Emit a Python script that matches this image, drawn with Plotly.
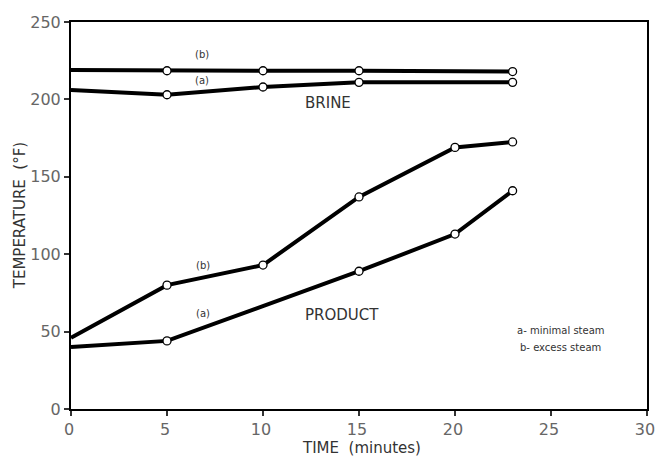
import plotly.graph_objects as go

time_brine = [0, 5, 10, 15, 23]
brine_b = [219, 218.5, 218.5, 218.5, 218]
brine_a = [206, 203, 208, 211, 211]

time_product = [0, 5, 10, 15, 20, 23]
product_b = [46, 80, 93, 137, 169, 172.5]
time_product_a = [0, 5, 15, 20, 23]
product_a = [40, 44, 89, 113, 141]

x_ticks = [0, 5, 10, 15, 20, 25, 30]
y_ticks = [0, 50, 100, 150, 200, 250]

line_style = dict(color="black", width=4)
marker_style = dict(symbol="circle", size=8, color="white",
                    line=dict(color="black", width=1.3))

fig = go.Figure()
for xs, ys in [(time_brine, brine_b), (time_brine, brine_a),
               (time_product, product_b), (time_product_a, product_a)]:
    fig.add_trace(go.Scatter(x=xs, y=ys, mode="lines",
                             line=line_style, showlegend=False))
    fig.add_trace(go.Scatter(x=xs[1:], y=ys[1:], mode="markers",
                             marker=marker_style, showlegend=False))

annotations = [
    dict(x=6.8, y=229, text="(b)", size=10),
    dict(x=6.8, y=212.5, text="(a)", size=10),
    dict(x=13.4, y=197.5, text="BRINE", size=15),
    dict(x=6.9, y=93, text="(b)", size=10),
    dict(x=6.9, y=62, text="(a)", size=10),
    dict(x=14.1, y=61, text="PRODUCT", size=15),
    dict(x=25.5, y=50.7, text="a- minimal steam", size=10),
    dict(x=25.5, y=39.5, text="b- excess steam", size=10),
]
for a in annotations:
    fig.add_annotation(x=a["x"], y=a["y"], text=a["text"], showarrow=False,
                       font=dict(family="DejaVu Sans", size=a["size"], color="#333333"))

# axis titles as paper-positioned text
fig.add_annotation(x=0.505, y=-0.1, xref="paper", yref="paper", yanchor="middle",
                   text="TIME  (minutes)", showarrow=False,
                   font=dict(family="DejaVu Sans", size=15, color="#333333"))
fig.add_annotation(x=-0.089, y=0.5, xref="paper", yref="paper", xanchor="center",
                   textangle=-90, text="TEMPERATURE  (°F)", showarrow=False,
                   font=dict(family="DejaVu Sans", size=15, color="#333333"))

axis_common = dict(showgrid=False, zeroline=False, showline=True, linecolor="black",
                   linewidth=2, mirror=True, ticks="outside", ticklen=5,
                   tickcolor="#333333", tickwidth=1.5, automargin=False,
                   tickfont=dict(family="DejaVu Sans", size=16, color="#666666"))

fig.update_layout(
    width=655, height=460,
    margin=dict(l=71, r=8, t=22, b=51, autoexpand=False),
    paper_bgcolor="white", plot_bgcolor="white",
    xaxis=dict(range=[0, 30], tickvals=x_ticks, ticktext=[str(v) for v in x_ticks],
               ticklabeloverflow="allow", ticklabelshift=-2, **axis_common),
    yaxis=dict(range=[0, 250], tickvals=y_ticks, ticktext=[str(v) for v in y_ticks],
               **axis_common),
)

fig.write_html("out.html", config={"displayModeBar": False},
               post_script="document.body.style.margin='0';document.body.style.overflow='hidden';")
